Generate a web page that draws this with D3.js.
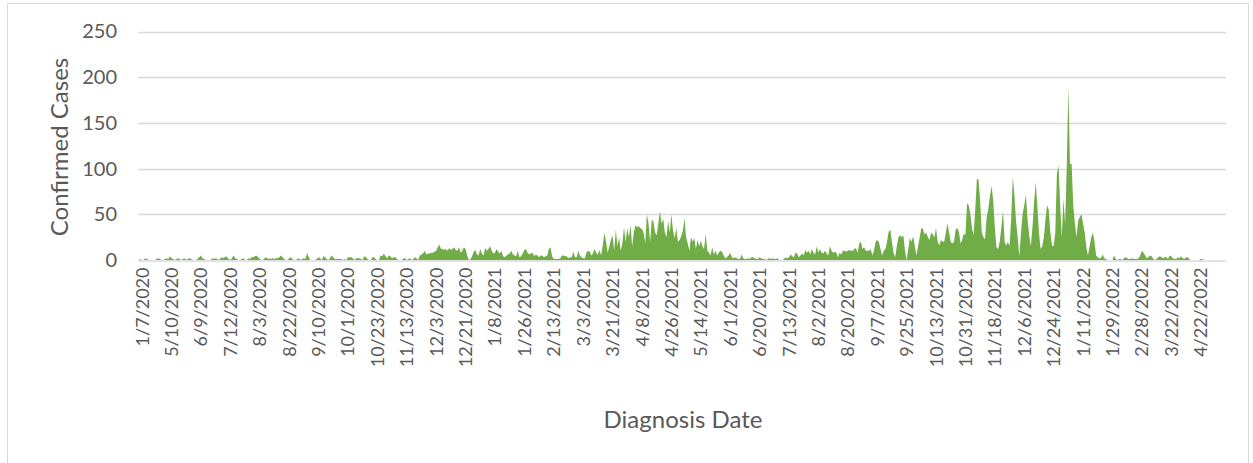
<!DOCTYPE html>
<html>
<head>
<meta charset="utf-8">
<script src="https://cdn.jsdelivr.net/npm/d3@7"></script>
<style>
body { margin: 0; background: #fff; }
svg text { font-family: Lato, "Open Sans", sans-serif; fill: #595959; }
</style>
</head>
<body>
<svg id="chart" width="1253" height="463"></svg>
<script>
// value axis ticks
var yTicks = [0, 50, 100, 150, 200, 250];

// category labels, one shown every 18 days with cases
var tickLabels = ["1/7/2020", "5/10/2020", "6/9/2020", "7/12/2020", "8/3/2020", "8/22/2020",
	"9/10/2020", "10/1/2020", "10/23/2020", "11/13/2020", "12/3/2020", "12/21/2020",
	"1/8/2021", "1/26/2021", "2/13/2021", "3/3/2021", "3/21/2021", "4/8/2021",
	"4/26/2021", "5/14/2021", "6/1/2021", "6/20/2021", "7/13/2021", "8/2/2021",
	"8/20/2021", "9/7/2021", "9/25/2021", "10/13/2021", "10/31/2021", "11/18/2021",
	"12/6/2021", "12/24/2021", "1/11/2022", "1/29/2022", "2/28/2022", "3/22/2022", "4/22/2022"];
var tickStep = 18;

// confirmed cases per diagnosis date
var cases = [
	0,1,0,0,2,1,0,0,0,0,
	0,1,2,1,0,0,1,2,1,4,
	2,1,0,1,2,1,0,1,2,0,
	1,2,1,0,0,0,1,3,5,2,
	1,0,0,0,0,2,1,2,1,0,
	2,3,2,4,3,1,0,2,5,2,
	1,0,0,1,2,0,0,2,1,3,
	3,4,5,3,1,0,0,2,3,1,
	2,1,2,1,2,2,3,5,3,1,
	0,0,2,3,1,0,0,1,2,0,
	1,2,1,8,3,0,0,0,0,1,
	3,2,0,4,3,1,0,2,5,3,
	1,1,1,1,1,0,1,0,3,3,
	3,2,0,2,2,2,1,0,4,3,
	1,0,0,3,3,1,0,0,5,4,
	7,4,2,5,4,2,3,3,1,0,
	0,0,2,2,0,1,2,0,1,3,
	2,0,5,6,7,10,6,7,7,8,
	8,9,10,14,17,12,12,11,12,10,
	13,11,12,14,11,10,14,8,10,14,
	12,5,0,1,4,9,11,6,5,12,
	7,5,13,10,12,15,10,7,8,12,
	9,7,10,4,3,5,6,7,10,6,
	5,4,10,3,4,7,11,12,8,6,
	7,8,4,6,5,3,5,5,3,4,
	5,12,14,4,1,1,1,1,2,5,
	5,4,4,2,3,3,9,3,3,10,
	5,3,2,2,8,10,9,5,7,12,
	8,6,11,5,16,30,20,8,15,22,
	27,10,33,15,25,10,18,36,20,35,
	25,38,15,30,38,36,37,35,34,30,
	18,50,40,20,44,42,30,27,40,53,
	40,45,30,25,43,30,50,32,24,35,
	20,22,26,32,46,25,18,10,25,20,
	24,12,22,15,21,15,12,29,10,8,
	5,14,6,10,5,8,10,9,5,2,
	3,5,8,3,2,3,2,1,1,6,
	2,1,1,2,1,3,3,2,1,1,
	3,2,1,1,0,1,2,1,2,1,
	1,2,0,0,0,1,3,2,3,6,
	4,3,8,7,3,5,7,5,11,8,
	10,6,12,8,6,15,8,12,8,7,
	10,7,5,15,10,8,9,8,3,8,
	6,10,10,9,10,11,10,10,12,13,
	8,18,20,12,14,10,10,10,12,5,
	10,20,22,20,12,5,10,12,20,31,
	33,20,8,3,15,25,27,25,27,10,
	0,12,24,20,26,15,5,15,25,35,
	34,28,30,25,22,30,28,25,35,20,
	16,22,20,20,30,40,30,20,18,20,
	33,35,31,18,22,29,27,62,60,50,
	35,27,55,89,88,65,30,25,23,47,
	56,70,81,65,35,14,12,20,36,54,
	20,16,20,15,45,91,70,42,25,4,
	30,50,60,71,45,27,15,35,63,85,
	60,30,12,15,25,45,60,55,30,16,
	15,30,95,103,60,25,67,40,100,190,
	105,105,60,40,25,43,47,50,40,30,
	14,5,15,25,30,20,5,3,2,2,
	6,2,1,0,0,0,0,5,1,0,
	1,1,0,2,3,2,1,1,2,1,
	1,1,2,5,10,8,5,2,3,5,
	4,1,0,1,3,4,3,2,3,3,
	1,5,4,2,1,1,3,2,4,2,
	1,3,3,1,0,0,0,0,0,0,
	1,1,0,0,0,0,0,0,0,0,
	0,0,0,0,0,0
];

var svg = d3.select("#chart");

// chart border
svg.append("rect")
	.attr("x", 7.5).attr("y", 3.5)
	.attr("width", 1241).attr("height", 480)
	.attr("fill", "#fff")
	.attr("stroke", "#d9d9d9");

var x = d3.scaleLinear()
	.domain([-0.5, cases.length - 0.5])
	.range([138, 1226]);
var y = d3.scaleLinear()
	.domain([0, 250])
	.range([260, 31.5]);

// gridlines
svg.append("g")
	.selectAll("line")
	.data(yTicks.filter(function(d) { return d > 0; }))
	.enter()
	.append("line")
		.attr("x1", 138).attr("x2", 1226)
		.attr("y1", function(d) { return Math.round(y(d)) + 0.5; })
		.attr("y2", function(d) { return Math.round(y(d)) + 0.5; })
		.attr("stroke", "#d9d9d9")
		.attr("stroke-width", 1.3);

// the area
var area = d3.area()
	.x(function(d, i) { return x(i); })
	.y0(y(0))
	.y1(function(d) { return y(d); });

svg.append("path")
	.datum(cases)
	.attr("d", area)
	.attr("fill", "#70ad47");

// y axis
var yAxis = svg.append("g")
	.attr("transform", "translate(123,0)")
	.call(d3.axisLeft(y).tickValues(yTicks).tickSize(0).tickPadding(6));
yAxis.select(".domain").remove();
yAxis.selectAll("text")
	.style("font-size", "20px")
	.attr("fill", "#595959");

// x axis
var xAxis = svg.append("g")
	.attr("transform", "translate(0," + (Math.round(y(0)) + 0.5) + ")")
	.call(d3.axisBottom(x)
		.tickValues(d3.range(tickLabels.length).map(function(k) { return k * tickStep; }))
		.tickFormat(function(d) { return tickLabels[d / tickStep]; })
		.tickSize(0));
xAxis.select(".domain")
	.attr("stroke", "#d9d9d9")
	.attr("stroke-width", 1.3);
xAxis.selectAll("text")
	.attr("transform", "rotate(-90)")
	.attr("x", -7)
	.attr("y", 3)
	.attr("dy", "0.35em")
	.style("text-anchor", "end")
	.style("font-size", "18px")
	.attr("fill", "#595959");

// axis titles
svg.append("text")
	.attr("transform", "translate(68,147) rotate(-90)")
	.attr("text-anchor", "middle")
	.style("font-size", "24px")
	.text("Confirmed Cases");

svg.append("text")
	.attr("x", 683)
	.attr("y", 428)
	.attr("text-anchor", "middle")
	.style("font-size", "24px")
	.text("Diagnosis Date");
</script>
</body>
</html>
